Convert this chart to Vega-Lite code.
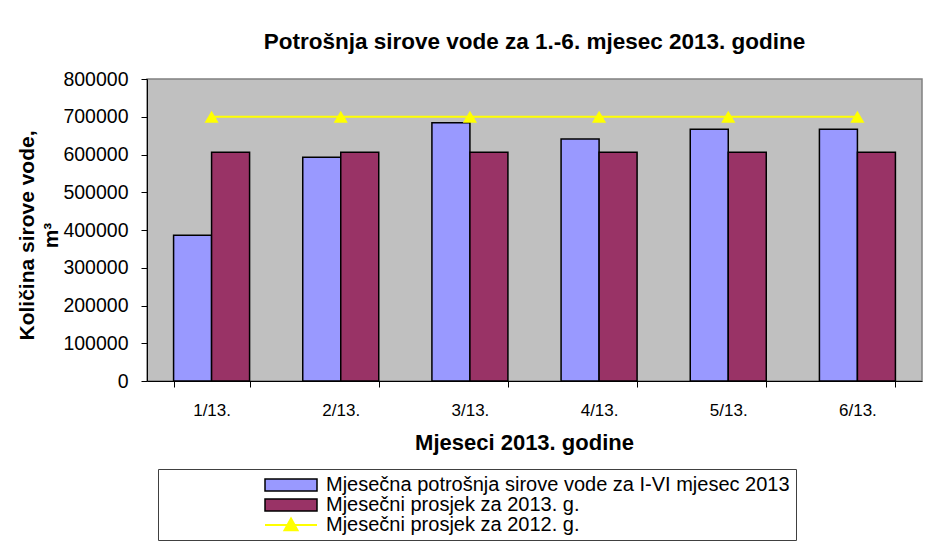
{
  "$schema": "https://vega.github.io/schema/vega-lite/v6.json",
  "width": 775,
  "height": 302,
  "autosize": {"type": "none"},
  "padding": {"left": 147, "top": 79, "right": 29, "bottom": 165},
  "background": "white",
  "title": {
    "text": "Potrošnja sirove vode za 1.-6. mjesec 2013. godine",
    "font": "Liberation Sans",
    "fontSize": 22.5,
    "fontWeight": "bold",
    "color": "#000000",
    "anchor": "middle",
    "frame": "group",
    "baseline": "bottom",
    "offset": -7
  },
  "data": {
    "values": [
      {"month": "1/13.", "series": "Mjesečna potrošnja sirove vode za I-VI mjesec 2013", "value": 386000},
      {"month": "2/13.", "series": "Mjesečna potrošnja sirove vode za I-VI mjesec 2013", "value": 593000},
      {"month": "3/13.", "series": "Mjesečna potrošnja sirove vode za I-VI mjesec 2013", "value": 684000},
      {"month": "4/13.", "series": "Mjesečna potrošnja sirove vode za I-VI mjesec 2013", "value": 641000},
      {"month": "5/13.", "series": "Mjesečna potrošnja sirove vode za I-VI mjesec 2013", "value": 667000},
      {"month": "6/13.", "series": "Mjesečna potrošnja sirove vode za I-VI mjesec 2013", "value": 667000},
      {"month": "1/13.", "series": "Mjesečni prosjek za 2013. g.", "value": 606000},
      {"month": "2/13.", "series": "Mjesečni prosjek za 2013. g.", "value": 606000},
      {"month": "3/13.", "series": "Mjesečni prosjek za 2013. g.", "value": 606000},
      {"month": "4/13.", "series": "Mjesečni prosjek za 2013. g.", "value": 606000},
      {"month": "5/13.", "series": "Mjesečni prosjek za 2013. g.", "value": 606000},
      {"month": "6/13.", "series": "Mjesečni prosjek za 2013. g.", "value": 606000},
      {"month": "1/13.", "series": "Mjesečni prosjek za 2012. g.", "value": 700000},
      {"month": "2/13.", "series": "Mjesečni prosjek za 2012. g.", "value": 700000},
      {"month": "3/13.", "series": "Mjesečni prosjek za 2012. g.", "value": 700000},
      {"month": "4/13.", "series": "Mjesečni prosjek za 2012. g.", "value": 700000},
      {"month": "5/13.", "series": "Mjesečni prosjek za 2012. g.", "value": 700000},
      {"month": "6/13.", "series": "Mjesečni prosjek za 2012. g.", "value": 700000}
    ]
  },
  "encoding": {
    "x": {
      "field": "month",
      "type": "nominal",
      "sort": null,
      "scale": {"paddingInner": 0.4116, "paddingOuter": 0.2058},
      "axis": {
        "title": "Mjeseci 2013. godine",
        "titleFont": "Liberation Sans",
        "titleFontSize": 22,
        "titleFontWeight": "bold",
        "titleColor": "#000000",
        "titleBaseline": "alphabetic",
        "titleAlign": "center",
        "titleAnchor": "start",
        "titleX": 377,
        "titleY": 68,
        "labelAngle": 0,
        "labelFont": "Liberation Sans",
        "labelFontSize": 17,
        "labelColor": "#000000",
        "labelPadding": 15,
        "tickBand": "extent",
        "tickSize": 6,
        "tickColor": "#000000",
        "domainColor": "#000000",
        "grid": false
      }
    },
    "y": {
      "field": "value",
      "type": "quantitative",
      "scale": {"domain": [0, 800000], "nice": false},
      "axis": {
        "title": ["Količina sirove vode,", "m³"],
        "titleFont": "Liberation Sans",
        "titleFontSize": 21,
        "titleFontWeight": "bold",
        "titleColor": "#000000",
        "titleLineHeight": 24,
        "titleBaseline": "alphabetic",
        "titleAlign": "center",
        "titleAngle": -90,
        "titleX": -114,
        "titleY": 156,
        "values": [0, 100000, 200000, 300000, 400000, 500000, 600000, 700000, 800000],
        "format": "d",
        "labelFont": "Liberation Sans",
        "labelFontSize": 19.5,
        "labelColor": "#000000",
        "labelPadding": 13,
        "tickSize": 6,
        "tickColor": "#000000",
        "domainColor": "#000000",
        "grid": false
      }
    }
  },
  "layer": [
    {
      "transform": [{"filter": "datum.series !== 'Mjesečni prosjek za 2012. g.'"}],
      "mark": {"type": "bar", "stroke": "#000000", "strokeWidth": 1.5},
      "encoding": {
        "xOffset": {
          "field": "series",
          "type": "nominal",
          "sort": null,
          "scale": {
            "domain": ["Mjesečna potrošnja sirove vode za I-VI mjesec 2013", "Mjesečni prosjek za 2013. g."],
            "paddingInner": 0,
            "paddingOuter": 0
          }
        },
        "color": {
          "field": "series",
          "type": "nominal",
          "sort": null,
          "scale": {
            "domain": ["Mjesečna potrošnja sirove vode za I-VI mjesec 2013", "Mjesečni prosjek za 2013. g."],
            "range": ["#9999FF", "#993366"]
          },
          "legend": {
            "orient": "none",
            "legendX": 11,
            "legendY": 390,
            "title": "\u00a0",
            "titleOrient": "bottom",
            "titlePadding": 0,
            "titleFontSize": 19,
            "titleFont": "Liberation Sans",
            "direction": "vertical",
            "padding": 6,
            "strokeColor": "#404040",
            "symbolType": "M-1,-0.23H1V0.23H-1Z",
            "symbolSize": 2704,
            "symbolStrokeColor": "#000000",
            "symbolStrokeWidth": 1.5,
            "symbolOpacity": 1,
            "clipHeight": 20,
            "rowPadding": 0,
            "symbolOffset": 100,
            "labelOffset": 8,
            "labelFont": "Liberation Sans",
            "labelFontSize": 20,
            "labelColor": "#000000",
            "labelLimit": 2000
          }
        }
      }
    },
    {
      "transform": [{"filter": "datum.series === 'Mjesečni prosjek za 2012. g.'"}],
      "mark": {"type": "line", "strokeWidth": 2, "color": "#FFFF00"},
      "encoding": {}
    },
    {
      "transform": [{"filter": "datum.series === 'Mjesečni prosjek za 2012. g.'"}],
      "mark": {"type": "point", "shape": "triangle-up", "size": 200, "filled": true, "opacity": 1},
      "encoding": {
        "fill": {
          "field": "series",
          "type": "nominal",
          "scale": {"domain": ["Mjesečni prosjek za 2012. g."], "range": ["#FFFF00"]},
          "legend": {
            "orient": "none",
            "legendX": 17,
            "legendY": 436,
            "title": null,
            "padding": 0,
            "symbolType": "M-1,0H1M0,-0.25L0.25,0.2L-0.25,0.2Z",
            "symbolSize": 2704,
            "symbolStrokeColor": "#FFFF00",
            "symbolFillColor": "#FFFF00",
            "symbolStrokeWidth": 2,
            "symbolOpacity": 1,
            "clipHeight": 20,
            "symbolOffset": 100,
            "labelOffset": 8,
            "labelFont": "Liberation Sans",
            "labelFontSize": 20,
            "labelColor": "#000000",
            "labelLimit": 2000
          }
        }
      }
    }
  ],
  "config": {
    "view": {"stroke": "#808080", "strokeWidth": 1.5, "fill": "#C0C0C0"}
  }
}
